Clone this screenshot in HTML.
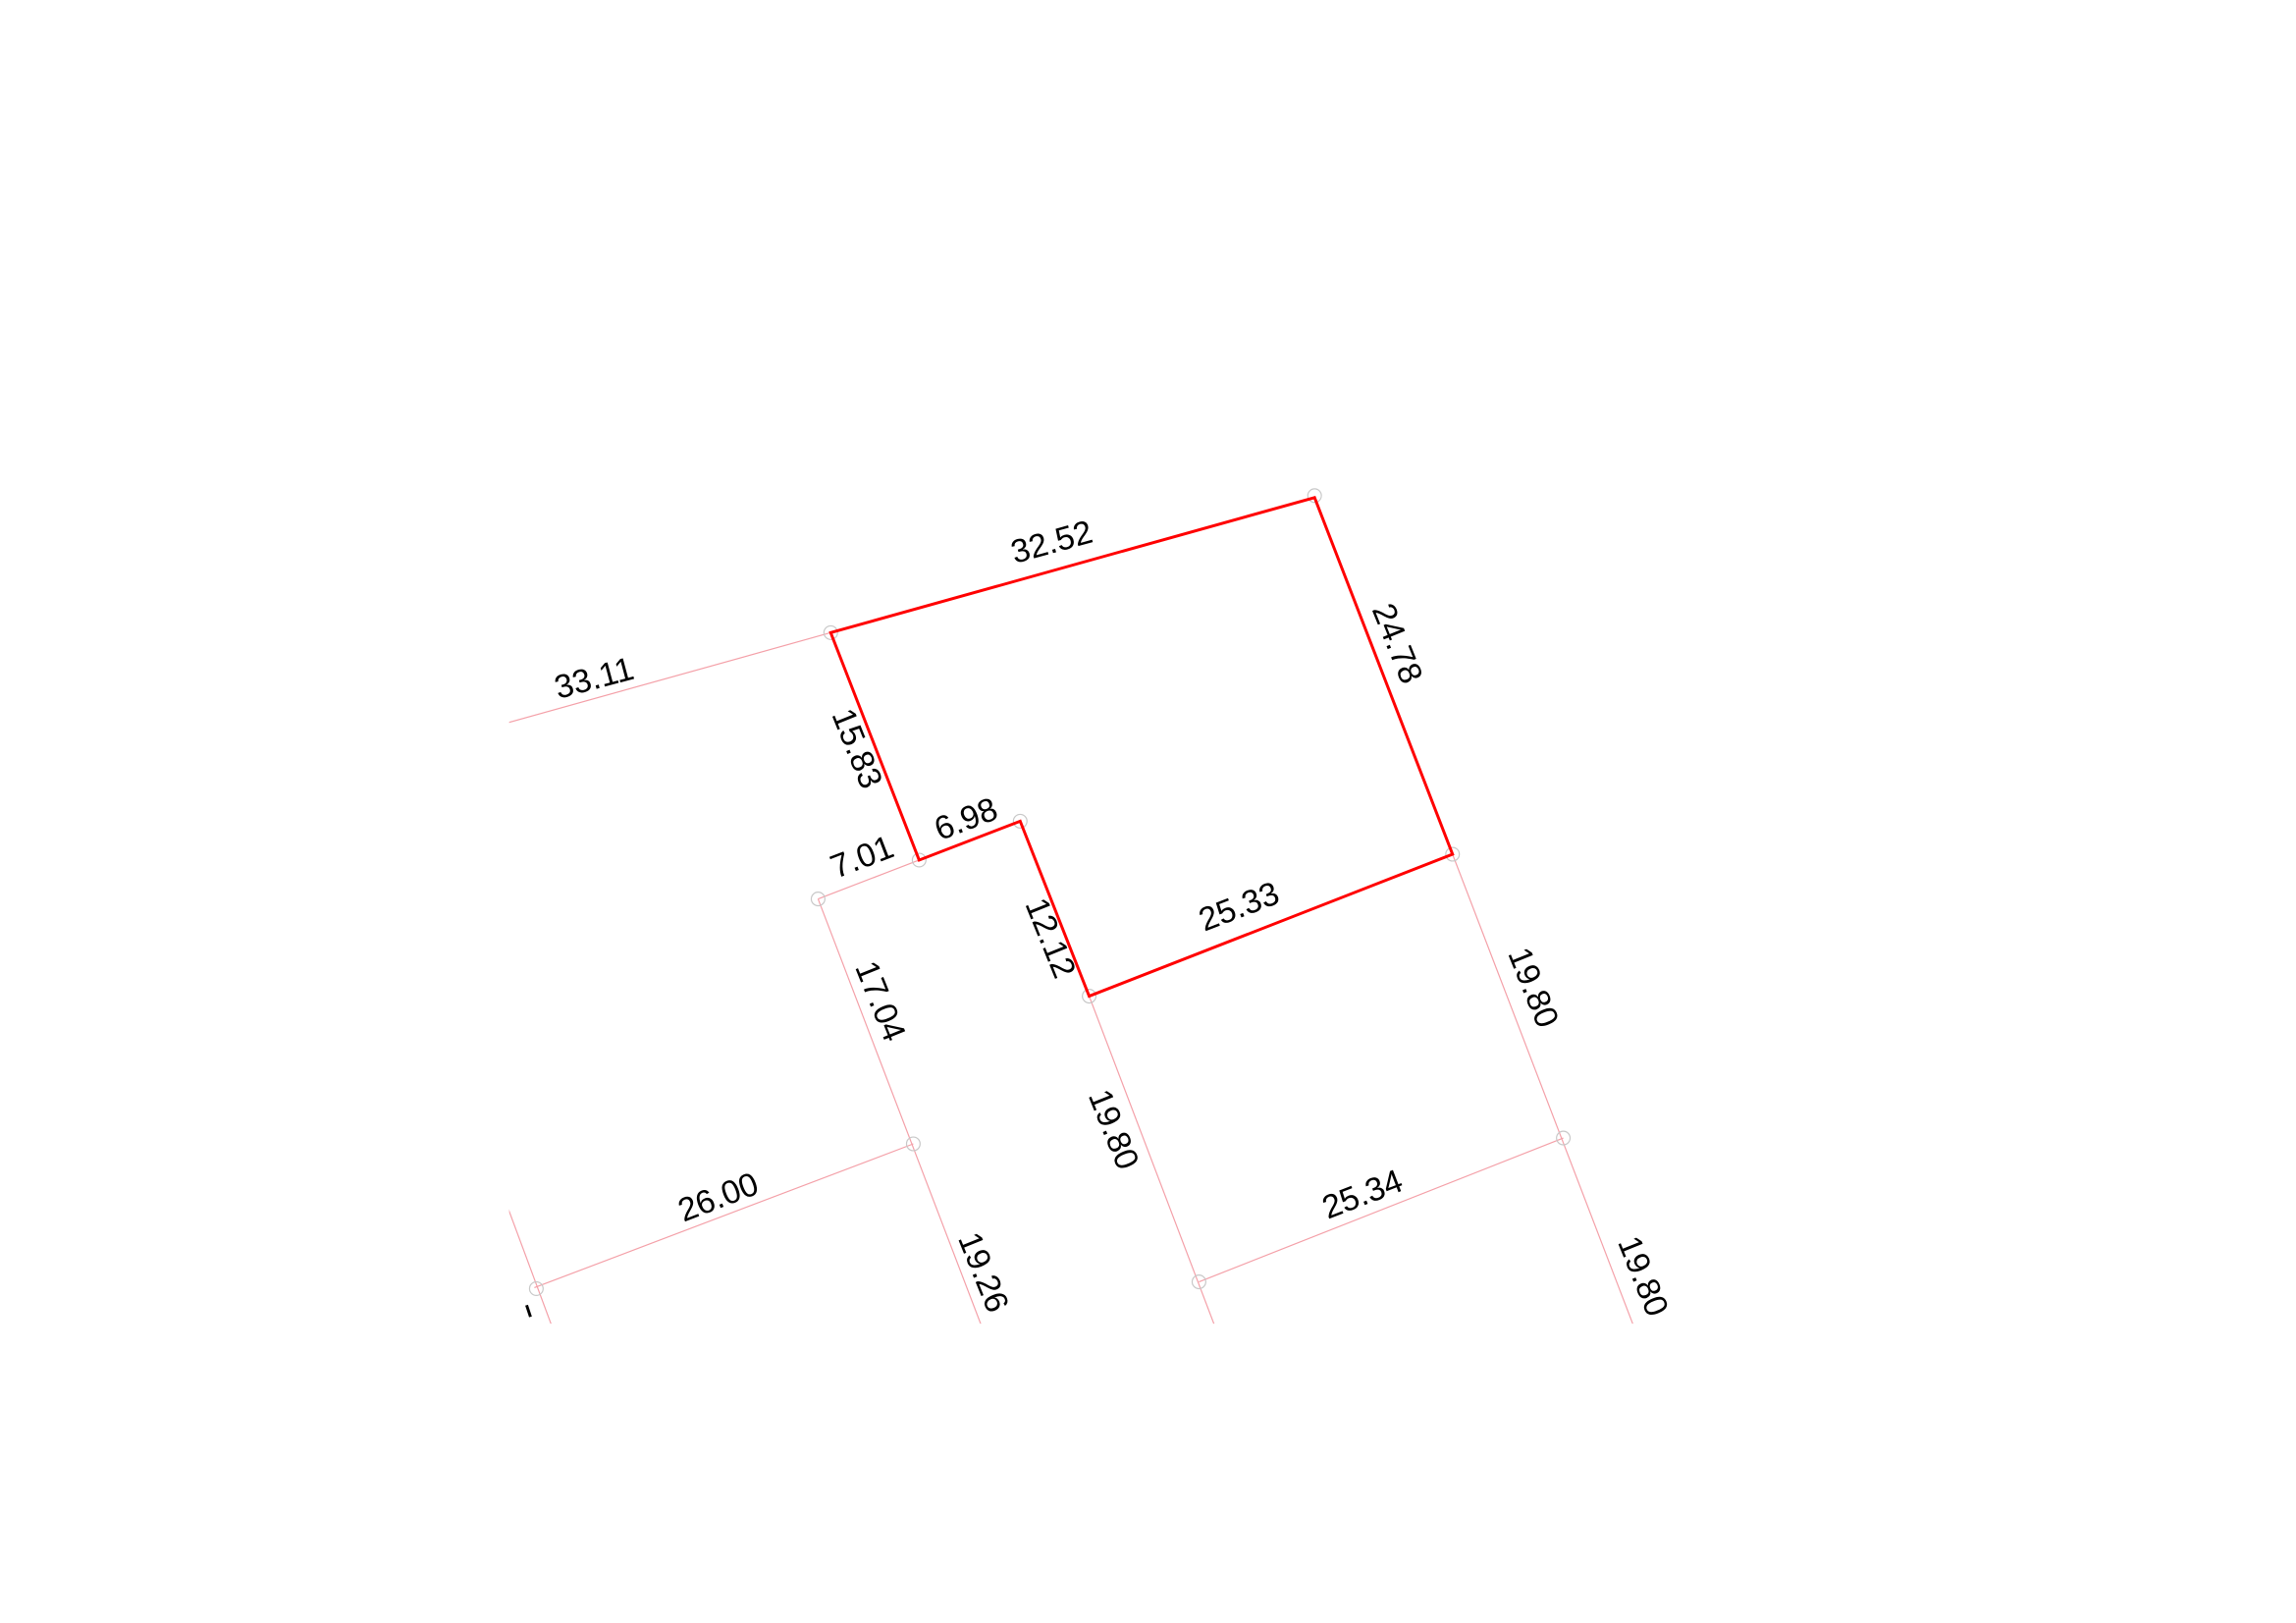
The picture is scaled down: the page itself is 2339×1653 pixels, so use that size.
<!DOCTYPE html>
<html><head><meta charset="utf-8"><style>
html,body{margin:0;padding:0;background:#fff;}
svg{display:block;}
text{font-family:"Liberation Sans",sans-serif;font-size:34px;fill:#000;}
</style></head><body>
<svg width="2339" height="1653" viewBox="0 0 2339 1653" xmlns="http://www.w3.org/2000/svg">
<defs><clipPath id="c"><rect x="524" y="0" width="1815" height="1362"/></clipPath></defs>
<g transform="scale(0.9898)">
<g clip-path="url(#c)" stroke="#f4a0a8" stroke-width="1.2" fill="none">
<line x1="855" y1="651" x2="500" y2="750"/>
<line x1="946" y1="885" x2="842" y2="925"/>
<line x1="842" y1="925" x2="1020" y2="1390"/>
<line x1="940" y1="1177" x2="550" y2="1325"/>
<line x1="1121" y1="1025" x2="1260" y2="1390"/>
<line x1="1495" y1="879" x2="1695" y2="1400"/>
<line x1="1234" y1="1319" x2="1609" y2="1171"/>
<line x1="518" y1="1230" x2="570" y2="1370"/>
</g>
<g stroke="#c8c8c8" stroke-width="1.2" fill="none">
<circle cx="855" cy="651" r="7"/><circle cx="1353" cy="510" r="7"/><circle cx="1495" cy="879" r="7"/>
<circle cx="1121" cy="1025" r="7"/><circle cx="1050" cy="845" r="7"/><circle cx="946" cy="885" r="7"/>
<circle cx="842" cy="925" r="7"/><circle cx="940" cy="1177" r="7"/><circle cx="552" cy="1326" r="7"/>
<circle cx="1234" cy="1319" r="7"/><circle cx="1609" cy="1171" r="7"/>
</g>
<polygon points="855,651 1353,512 1495,879 1121,1025 1050,845 946,885" fill="none" stroke="#ff0000" stroke-width="3"/>
<g text-anchor="middle" dominant-baseline="middle">
<text transform="translate(612,700) rotate(-15)">33.11</text>
<text transform="translate(1083,560) rotate(-15.5)">32.52</text>
<text transform="translate(1436,663) rotate(68)">24.78</text>
<text transform="translate(880,771) rotate(68)">15.83</text>
<text transform="translate(995,845) rotate(-21)">6.98</text>
<text transform="translate(888,884) rotate(-21)">7.01</text>
<text transform="translate(1079,966) rotate(68)">12.12</text>
<text transform="translate(1276,935) rotate(-21)">25.33</text>
<text transform="translate(1576,1017) rotate(68)">19.80</text>
<text transform="translate(904,1031) rotate(68)">17.04</text>
<text transform="translate(1144,1163) rotate(68)">19.80</text>
<text transform="translate(740,1234) rotate(-21)">26.00</text>
<text transform="translate(1403,1231) rotate(-21)">25.34</text>
<text transform="translate(1010,1310) rotate(68)">19.26</text>
<text transform="translate(1689,1314) rotate(68)">19.80</text>
</g>
<line x1="542" y1="1343" x2="546" y2="1355" stroke="#000" stroke-width="3"/>
</g>
</svg>
</body></html>
